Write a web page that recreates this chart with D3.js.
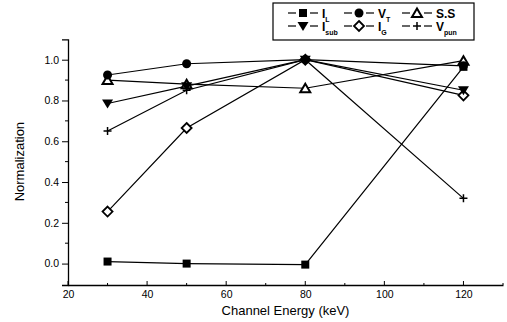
<!DOCTYPE html>
<html lang='en'>
<head>
<meta http-equiv='Content-Type' content='text/html;charset=utf-8'/>
<title>Normalization vs Channel Energy</title>
<script src='https://d3js.org/d3.v7.min.js'></script>
<style>
  body { margin: 0; background: #fff; }
  text { font-family: 'Liberation Sans', Arial, sans-serif; fill: #000; }
</style>
</head>
<body>
<script>
'use strict'
// data
const energy = [30, 50, 80, 120]
const iL   = [0.01, 0.0, -0.005, 0.965]
const vT   = [0.925, 0.98, 1.0, 0.97]
const ss   = [0.90, 0.88, 0.86, 0.995]
const iSub = [0.785, 0.87, 1.0, 0.85]
const iG   = [0.255, 0.665, 1.0, 0.825]
const vPun = [0.65, 0.85, 1.0, 0.32]

const xTicks = [20, 40, 60, 80, 100, 120]
const yTicks = [0.0, 0.2, 0.4, 0.6, 0.8, 1.0]

const series = [
  {name: 'I', sub: 'L', values: iL, marker: 'square', z: 3},
  {name: 'V', sub: 'T', values: vT, marker: 'circle', z: 5},
  {name: 'S.S', sub: '', values: ss, marker: 'triangle', z: 1},
  {name: 'I', sub: 'sub', values: iSub, marker: 'down', z: 4},
  {name: 'I', sub: 'G', values: iG, marker: 'diamond', z: 0},
  {name: 'V', sub: 'pun', values: vPun, marker: 'plus', z: 2}
]

const W = 507, H = 322
const svg = d3.select('body').append('svg')
  .attr('width', W).attr('height', H)

svg.append('rect').attr('width', W).attr('height', H).attr('fill', '#fff')

const x = d3.scaleLinear().domain([20, 130]).range([68, 503])
const y = d3.scaleLinear().domain([-0.105, 1.1]).range([285, 39.3])

// axes
const xAxis = d3.axisBottom(x).tickValues(xTicks).tickSize(0).tickPadding(6)
  .tickFormat(d3.format('d'))
const gx = svg.append('g').attr('transform', 'translate(0,285)').call(xAxis)
gx.select('.domain').attr('stroke', '#000').attr('stroke-width', 1.3)
gx.selectAll('text').attr('font-size', 10.5)

// x ticks every 10, pointing inward
svg.append('g').selectAll('line')
  .data(d3.range(20, 131, 10))
  .join('line')
  .attr('x1', d => x(d)).attr('x2', d => x(d))
  .attr('y1', 285).attr('y2', d => d % 20 === 0 ? 281 : 283)
  .attr('stroke', '#000')

const yAxis = d3.axisLeft(y).tickValues(yTicks).tickSize(6).tickPadding(3)
  .tickFormat(d3.format('.1f'))
const gy = svg.append('g').attr('transform', 'translate(68,0)').call(yAxis)
gy.select('.domain').attr('stroke', '#000').attr('stroke-width', 1.3)
gy.selectAll('text').attr('font-size', 10.5)

// minor y ticks
svg.append('g').selectAll('line')
  .data([0.1, 0.3, 0.5, 0.7, 0.9])
  .join('line')
  .attr('x1', 65).attr('x2', 68)
  .attr('y1', d => y(d)).attr('y2', d => y(d))
  .attr('stroke', '#000')

svg.append('text')
  .attr('x', x(75)).attr('y', 315)
  .attr('text-anchor', 'middle').attr('font-size', 13)
  .text('Channel Energy (keV)')

svg.append('text')
  .attr('transform', 'translate(24,' + y(0.5) + ') rotate(-90)')
  .attr('text-anchor', 'middle').attr('font-size', 13)
  .text('Normalization')

// markers
function drawMarker(g, type, cx, cy) {
  if (type === 'square') {
    g.append('rect').attr('x', cx - 4).attr('y', cy - 4)
      .attr('width', 8).attr('height', 8).attr('fill', '#000')
  } else if (type === 'circle') {
    g.append('circle').attr('cx', cx).attr('cy', cy).attr('r', 4.5).attr('fill', '#000')
  } else if (type === 'triangle') {
    g.append('path')
      .attr('d', `M${cx},${cy - 4.5}L${cx + 5},${cy + 4}L${cx - 5},${cy + 4}Z`)
      .attr('fill', '#fff').attr('stroke', '#000').attr('stroke-width', 2)
  } else if (type === 'down') {
    g.append('path')
      .attr('d', `M${cx - 5.5},${cy - 4}L${cx + 5.5},${cy - 4}L${cx},${cy + 5}Z`)
      .attr('fill', '#000')
  } else if (type === 'diamond') {
    g.append('path')
      .attr('d', `M${cx},${cy - 5}L${cx + 5},${cy}L${cx},${cy + 5}L${cx - 5},${cy}Z`)
      .attr('fill', '#fff').attr('stroke', '#000').attr('stroke-width', 1.8)
  } else if (type === 'plus') {
    g.append('path')
      .attr('d', `M${cx - 4},${cy}H${cx + 4}M${cx},${cy - 4}V${cy + 4}`)
      .attr('stroke', '#000').attr('stroke-width', 1.5)
  }
}

const line = d3.line()
  .x(d => x(d[0]))
  .y(d => y(d[1]))

const plot = svg.append('g')
series.forEach(s => {
  const pts = energy.map((e, i) => [e, s.values[i]])
  plot.append('path')
    .attr('d', line(pts))
    .attr('fill', 'none').attr('stroke', '#000').attr('stroke-width', 1.2)
})
// open markers first so the filled ones sit on top where points coincide
series.slice().sort((a, b) => a.z - b.z).forEach(s => {
  energy.forEach((e, i) => drawMarker(plot, s.marker, x(e), y(s.values[i])))
})

// legend
const legend = svg.append('g')
legend.append('rect')
  .attr('x', 273).attr('y', 3).attr('width', 201).attr('height', 37)
  .attr('fill', '#fff').attr('stroke', '#000').attr('stroke-width', 1.2)

const colX = [303, 359, 417]
const rowY = [13, 26]
series.forEach((s, i) => {
  const cx = colX[i % 3]
  const cy = rowY[Math.floor(i / 3)]
  legend.append('line').attr('x1', cx - 15).attr('x2', cx - 7)
    .attr('y1', cy).attr('y2', cy).attr('stroke', '#000').attr('stroke-width', 1.2)
  legend.append('line').attr('x1', cx + 7).attr('x2', cx + 15)
    .attr('y1', cy).attr('y2', cy).attr('stroke', '#000').attr('stroke-width', 1.2)
  drawMarker(legend, s.marker, cx, cy)
  const t = legend.append('text')
    .attr('x', cx + 19).attr('y', cy + 4.5)
    .attr('font-size', 12).attr('font-weight', 'bold')
  t.append('tspan').text(s.name)
  if (s.sub) {
    t.append('tspan').attr('font-size', 7).attr('dy', 4).text(s.sub)
  }
})
</script>
</body>
</html>
